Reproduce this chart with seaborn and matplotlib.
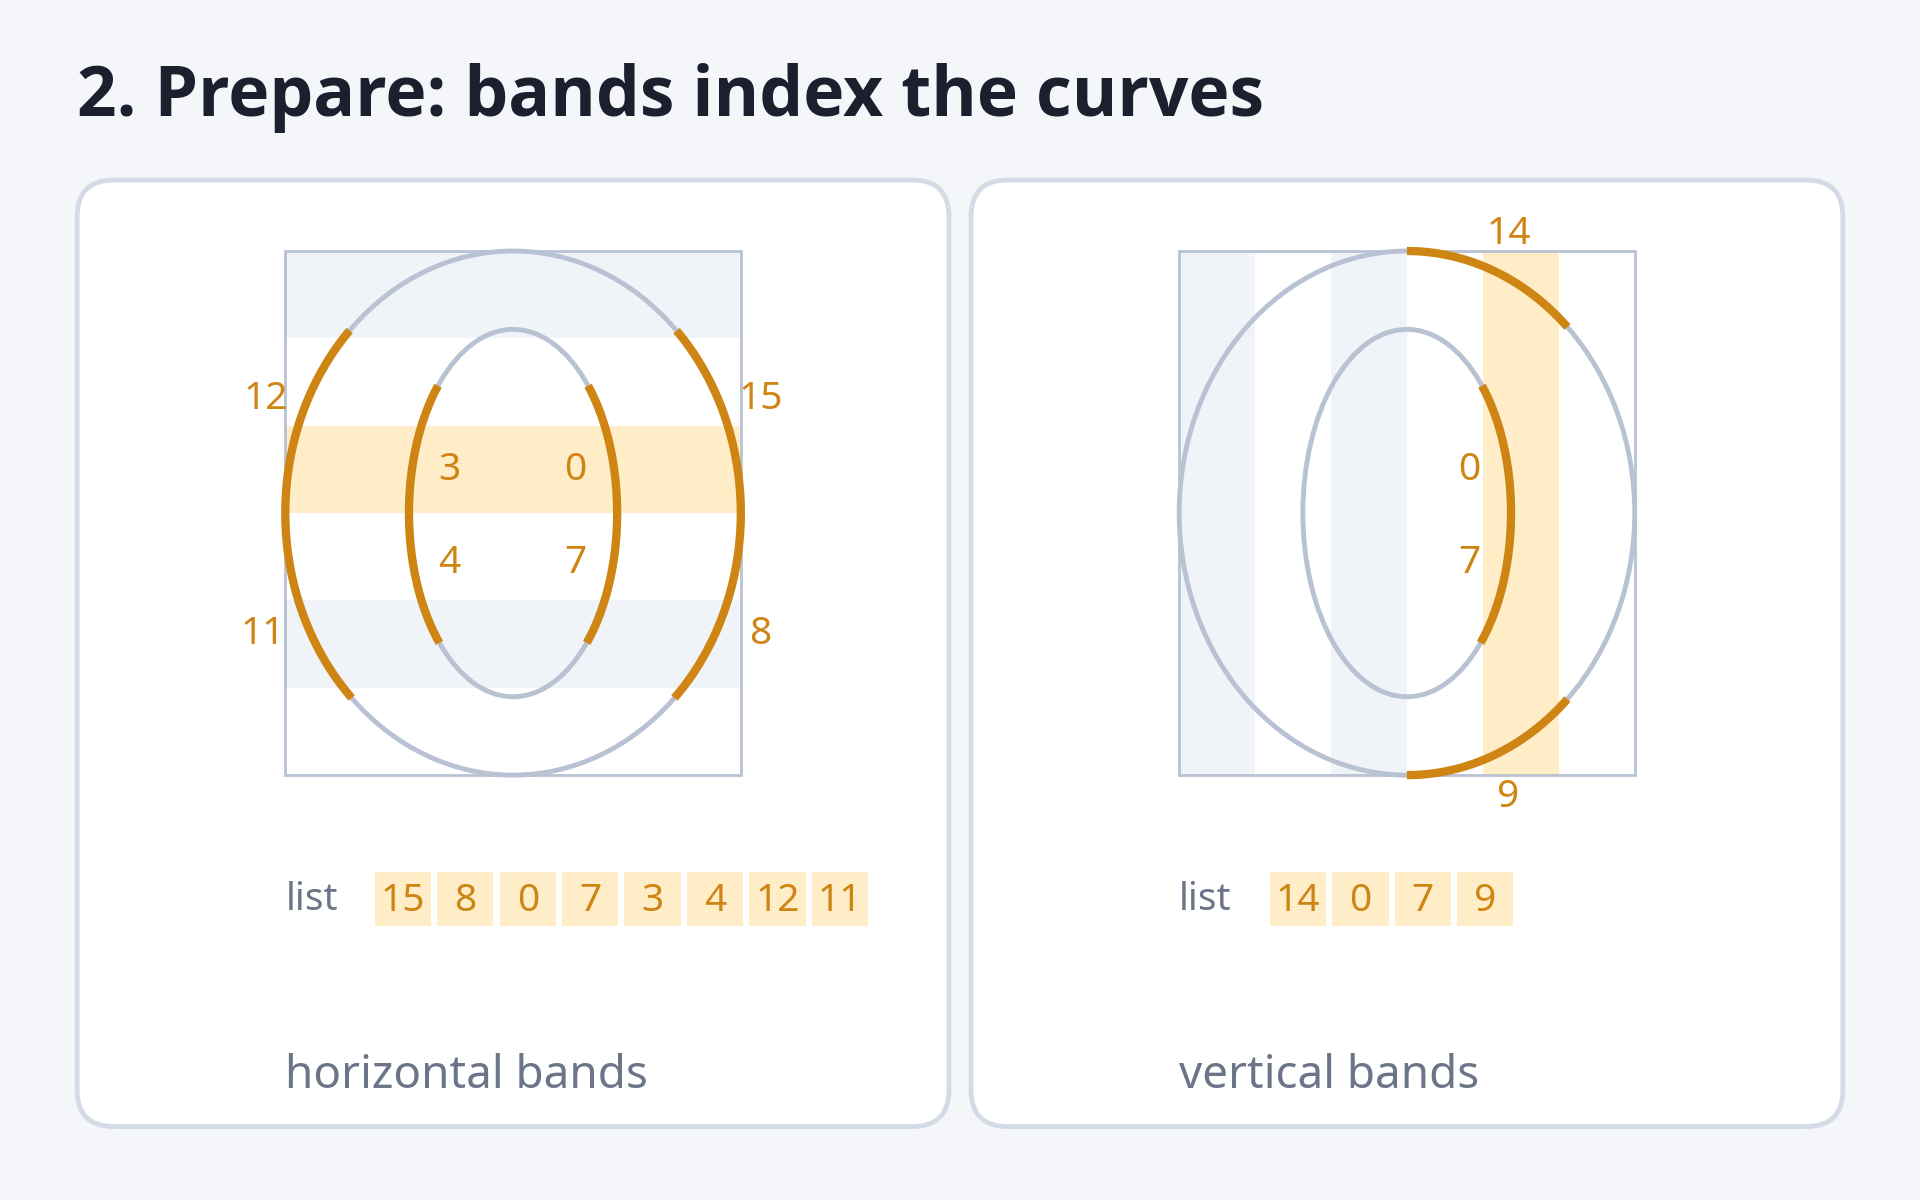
import numpy as np
import seaborn as sns
import matplotlib
matplotlib.use("Agg")
import matplotlib.pyplot as plt
from matplotlib.patches import Ellipse, Rectangle, FancyBboxPatch
from matplotlib import font_manager

sns.set_theme(style="white")
plt.rcParams['font.family'] = ['Noto Sans', 'DejaVu Sans']

title = "2. Prepare: bands index the curves"
captions = ["horizontal bands", "vertical bands"]
list_left = [15, 8, 0, 7, 3, 4, 12, 11]
list_right = [14, 0, 7, 9]
labels_left = [("12", 217, 323), ("15", 621, 323), ("11", 215, 515), ("8", 621, 515),
               ("3", 367, 381), ("0", 470, 381), ("4", 367, 457), ("7", 470, 457)]
labels_right = [("14", 1232, 188), ("9", 1232, 648), ("0", 1200, 381), ("7", 1200, 457)]

BG = "#f4f6fa"; BORDER = "#d5dbe6"; GRAY = "#b8c2d2"; ORANGE = "#cf8514"
SHADE = "#f0f4f9"; HIL = "#ffedc8"; TXT = "#6b7587"; DARK = "#1b1f2e"

# pick a family that really has a bold face
bold_family = "Noto Sans"
try:
    f = font_manager.findfont(font_manager.FontProperties(family="Noto Sans", weight="bold"), fallback_to_default=False)
    if "Bold" not in f:
        bold_family = "Open Sans"
except Exception:
    bold_family = "Open Sans"

fig = plt.figure(figsize=(19.2, 12), dpi=100, facecolor=BG)
ax = fig.add_axes([0, 0, 1, 1])
ax.set_xlim(0, 1568); ax.set_ylim(980, 0); ax.axis("off")
ax.set_facecolor(BG)

ax.text(63, 80, title, fontsize=50, fontweight="bold", family=[bold_family, "DejaVu Sans"],
        color=DARK, va="center", ha="left")

for x0 in (63, 793):
    ax.add_patch(FancyBboxPatch((x0, 147), 712, 773, boxstyle="round,pad=0,rounding_size=30",
                                fc="white", ec=BORDER, lw=3.5, zorder=1))

RX, RY, IRX, IRY, CY = 186, 214, 85, 150, 419

def arc(cx, rx, ry, t0, t1):
    t = np.radians(np.linspace(t0, t1, 100))
    ax.plot(cx + rx*np.cos(t), CY - ry*np.sin(t), color=ORANGE, lw=6, solid_capstyle="butt", zorder=5)

def ang(ry, y):
    return np.degrees(np.arcsin((CY - y)/ry))

# Left panel
cx = 419
bh = 428/6
for i in range(6):
    if i in (0, 2, 4):
        ax.add_patch(Rectangle((233, 205 + i*bh), 372, bh, fc=HIL if i == 2 else SHADE, ec="none", zorder=2))
ax.add_patch(Rectangle((233, 205), 372, 428, fc="none", ec=GRAY, lw=2, zorder=3))
ax.add_patch(Ellipse((cx, CY), 2*RX, 2*RY, fc="none", ec=GRAY, lw=3.5, zorder=4))
ax.add_patch(Ellipse((cx, CY), 2*IRX, 2*IRY, fc="none", ec=GRAY, lw=3.5, zorder=4))
a1, a2 = ang(RY, 270), ang(RY, 570)
arc(cx, RX, RY, a2, a1); arc(cx, RX, RY, 180 - a1, 180 - a2)
b1, b2 = ang(IRY, 315), ang(IRY, 525)
arc(cx, IRX, IRY, b2, b1); arc(cx, IRX, IRY, 180 - b1, 180 - b2)
for s, x, y in labels_left:
    ax.text(x, y + 3, s, fontsize=28, color=ORANGE, ha="center", va="center", zorder=6)

# Right panel
cx = 1149
bw = 372/6
for i in range(6):
    if i in (0, 2, 4):
        ax.add_patch(Rectangle((963 + i*bw, 205), bw, 428, fc=HIL if i == 4 else SHADE, ec="none", zorder=2))
ax.add_patch(Rectangle((963, 205), 372, 428, fc="none", ec=GRAY, lw=2, zorder=3))
ax.add_patch(Ellipse((cx, CY), 2*RX, 2*RY, fc="none", ec=GRAY, lw=3.5, zorder=4))
ax.add_patch(Ellipse((cx, CY), 2*IRX, 2*IRY, fc="none", ec=GRAY, lw=3.5, zorder=4))
c = np.degrees(np.arccos(131/186))
arc(cx, RX, RY, c, 90); arc(cx, RX, RY, -90, -c)
arc(cx, IRX, IRY, b2, b1)
for s, x, y in labels_right:
    ax.text(x, y + 3, s, fontsize=28, color=ORANGE, ha="center", va="center", zorder=6)

def draw_list(xl, xb, vals):
    ax.text(xl, 735, "list", fontsize=28, color=TXT, ha="left", va="center")
    for i, v in enumerate(vals):
        x = xb + 51*i
        ax.add_patch(Rectangle((x, 712), 46, 44, fc=HIL, ec="none", zorder=2))
        ax.text(x + 23, 736, str(v), fontsize=28, color=ORANGE, ha="center", va="center", zorder=3)

draw_list(233, 306, list_left)
draw_list(963, 1037, list_right)

ax.text(233, 879, captions[0], fontsize=33, color=TXT, ha="left", va="center")
ax.text(963, 879, captions[1], fontsize=33, color=TXT, ha="left", va="center")

fig.savefig("out.png", dpi=100, facecolor=BG)
